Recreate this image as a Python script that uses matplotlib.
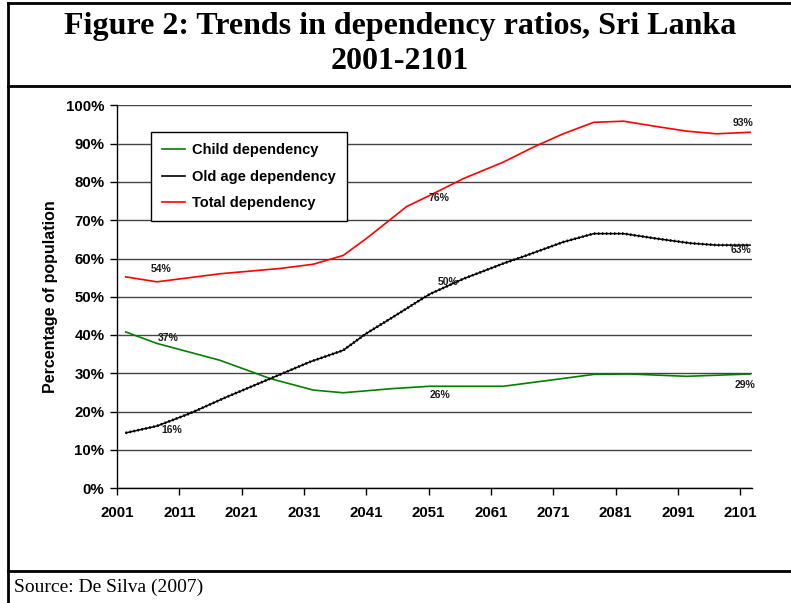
import matplotlib.pyplot as plt
from matplotlib.lines import Line2D
from matplotlib.ticker import PercentFormatter

plt.rcParams['font.family'] = ['Liberation Sans', 'DejaVu Sans']

# values (percent)
total_years = [2002.4, 2007.4, 2017.5, 2027.2, 2032.5, 2037.3, 2041, 2047.5, 2051.2,
               2056.6, 2063, 2067.8, 2072.6, 2077.5, 2082.3, 2087.6, 2092.4, 2097.2, 2102.6]
total_dep = [55.2, 53.9, 56.0, 57.4, 58.5, 60.8, 65.2, 73.6, 76.5,
             80.9, 85.2, 89.1, 92.6, 95.6, 95.9, 94.5, 93.3, 92.6, 93.0]

old_years = [2002.4, 2007.4, 2012.7, 2018.6, 2025.6, 2032, 2037.3, 2041, 2045.3, 2049.6,
             2051.2, 2056.6, 2063, 2066.7, 2072.6, 2077.5, 2082.3, 2087.6, 2093, 2097.2, 2102.6]
old_dep = [14.4, 16.2, 19.5, 23.8, 28.6, 33.0, 36.0, 40.4, 44.7, 49.1,
           50.7, 54.7, 58.7, 60.8, 64.3, 66.5, 66.5, 65.2, 64.0, 63.5, 63.5]

child_years = [2002.4, 2007.4, 2017.5, 2025.6, 2032.5, 2037.3, 2045.3, 2051.2, 2063,
               2071.5, 2077.5, 2083.3, 2092.4, 2102.6]
child_dep = [40.8, 37.8, 33.4, 28.6, 25.6, 24.9, 26.0, 26.6, 26.6,
             28.4, 29.7, 29.8, 29.2, 29.8]

# value labels: (year, value, text)
label_years = [2008.0, 2009.2, 2009.8, 2052.7, 2054.1, 2052.8, 2101.5, 2101.2, 2101.7]
label_vals = [57.3, 39.1, 15.2, 75.8, 53.9, 24.2, 95.5, 62.1, 26.8]
label_texts = ['54%', '37%', '16%', '76%', '50%', '26%', '93%', '63%', '29%']

x_ticks = list(range(2001, 2102, 10))
y_ticks = list(range(0, 101, 10))

fig = plt.figure(figsize=(7.91, 6.03), dpi=100)
ax = fig.add_axes([117 / 791, 1 - 488 / 603, (752 - 117) / 791, (488 - 105.5) / 603])

red = '#ff0000'
green = '#008000'

ax.plot(child_years, child_dep, color=green, lw=1.2, zorder=3)
ax.plot(old_years, old_dep, color='black', lw=1.1, zorder=3)
ax.plot(old_years, old_dep, color='black', lw=2.0, linestyle=(0, (0.5, 0.95)), zorder=3)
ax.plot(total_years, total_dep, color=red, lw=1.2, zorder=3)

for lx, ly, lt in zip(label_years, label_vals, label_texts):
    ax.text(lx, ly, lt, fontsize=7.5, fontweight='bold', ha='center', va='center', color='#1a1a1a')

ax.set_xlim(2001, 2102.9)
ax.set_ylim(0, 100)
ax.set_xticks(x_ticks)
ax.set_yticks(y_ticks)
ax.yaxis.set_major_formatter(PercentFormatter(decimals=0))
ax.tick_params(axis='both', direction='out', length=5, width=1, labelsize=10.8, pad=4)
for lab in ax.get_xticklabels() + ax.get_yticklabels():
    lab.set_fontweight('bold')
ax.tick_params(axis='x', pad=8)

ax.grid(axis='y', color='#444444', lw=1)
ax.set_axisbelow(True)
for side in ['top', 'right']:
    ax.spines[side].set_visible(False)
ax.spines['left'].set_linewidth(1)
ax.spines['bottom'].set_linewidth(1)

ax.set_ylabel('Percentage of population', fontsize=11.5, fontweight='bold', labelpad=6)

handles = [Line2D([], [], color=green, lw=1.2),
           Line2D([], [], color='black', lw=1.2),
           Line2D([], [], color=red, lw=1.2)]
leg = ax.legend(handles, ['Child dependency', 'Old age dependency', 'Total dependency'],
                loc='upper left', bbox_to_anchor=((150.7 - 117) / 635, (488 - 132.3) / 382.5),
                prop={'weight': 'bold', 'size': 10.5}, frameon=True, fancybox=False,
                edgecolor='black', framealpha=1, handlelength=1.6, handletextpad=0.5,
                labelspacing=0.85, borderpad=0.75, borderaxespad=0)
leg.get_frame().set_linewidth(1)

# frame lines around the figure
frame_kw = dict(color='black', lw=2, transform=fig.transFigure)
fig.add_artist(Line2D([8 / 791, 8 / 791], [0, 1 - 3 / 603], **frame_kw))
fig.add_artist(Line2D([8 / 791, 1], [1 - 3 / 603, 1 - 3 / 603], **frame_kw))
fig.add_artist(Line2D([8 / 791, 1], [1 - 86 / 603, 1 - 86 / 603], **frame_kw))
fig.add_artist(Line2D([8 / 791, 1], [1 - 571 / 603, 1 - 571 / 603], **frame_kw))

fig.text(400 / 791, 1 - 44 / 603, 'Figure 2: Trends in dependency ratios, Sri Lanka\n2001-2101',
         ha='center', va='center', fontsize=23, fontweight='bold',
         family=['Liberation Serif', 'DejaVu Serif'], linespacing=1.25)
fig.text(14 / 791, 1 - 587 / 603, 'Source: De Silva (2007)', ha='left', va='center',
         fontsize=14, family=['Liberation Serif', 'DejaVu Serif'])

fig.savefig('out.png', dpi=100)
